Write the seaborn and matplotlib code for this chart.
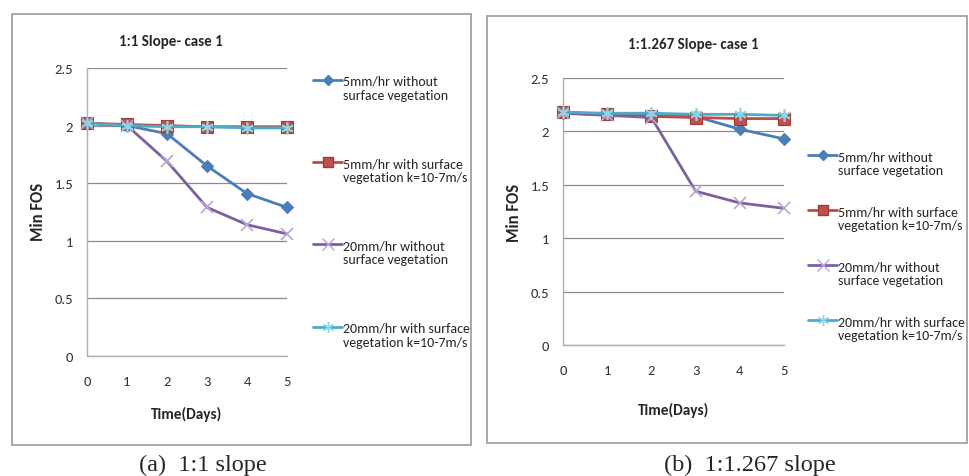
import matplotlib
matplotlib.use("Agg")
import matplotlib.pyplot as plt
import matplotlib.patches as mpatches
from matplotlib.lines import Line2D
import seaborn as sns
import pandas as pd

sns.set_style("white")
plt.rcParams['font.family'] = ['Carlito', 'Lato', 'DejaVu Sans']

days = [0, 1, 2, 3, 4, 5]
labels = ["5mm/hr without\nsurface vegetation",
          "5mm/hr with surface\nvegetation k=10-7m/s",
          "20mm/hr without\nsurface vegetation",
          "20mm/hr with surface\nvegetation k=10-7m/s"]

# 1:1 slope
s1_5_bare = [2.02, 2.00, 1.93, 1.65, 1.41, 1.29]
s1_5_veg = [2.02, 2.01, 2.00, 1.99, 1.99, 1.99]
s1_20_bare = [2.02, 2.00, 1.69, 1.29, 1.14, 1.06]
s1_20_veg = [2.02, 2.00, 1.99, 1.99, 1.98, 1.98]

# 1:1.267 slope
s2_5_bare = [2.17, 2.16, 2.15, 2.14, 2.02, 1.93]
s2_5_veg = [2.18, 2.16, 2.14, 2.13, 2.12, 2.12]
s2_20_bare = [2.17, 2.15, 2.13, 1.44, 1.33, 1.28]
s2_20_veg = [2.18, 2.17, 2.17, 2.16, 2.16, 2.15]

colors = ['#4A7EBB', '#BE4B48', '#7D60A0', '#4BACC6']
marker_face = ['#4A7EBB', '#C0504D', '#B9A6D3', '#8FD3E6']
marker_edge = ['#4A7EBB', '#A03A38', '#B9A6D3', '#8FD3E6']
markers = ['D', 's', 'x', (6, 2, 0)]
msizes = [6, 8, 9, 9]

fig = plt.figure(figsize=(9.7, 4.77), dpi=100)

# panel frames
fig.patches.append(mpatches.Rectangle((12 / 970, 1 - 446 / 477), 459 / 970, 431 / 477,
                                      transform=fig.transFigure, fill=False,
                                      edgecolor='#9a9a9a', lw=1.2))
fig.patches.append(mpatches.Rectangle((487 / 970, 1 - 444 / 477), 480 / 970, 427 / 477,
                                      transform=fig.transFigure, fill=False,
                                      edgecolor='#9a9a9a', lw=1.2))

panels = [
    dict(rect=[87 / 970, 120 / 477, 200 / 970, 288 / 477],
         series=[s1_5_bare, s1_5_veg, s1_20_bare, s1_20_veg],
         title="1:1 Slope- case 1", tpos=(171 / 970, 1 - 42 / 477),
         ylab=(-0.245, 0.503), xlab=(0.5, -0.201),
         leg=(313 / 970, 1 - 76 / 477), spacing=4.05,
         caption="(a)  1:1 slope", capx=203 / 970),
    dict(rect=[563 / 970, 131 / 477, 221 / 970, 267 / 477],
         series=[s2_5_bare, s2_5_veg, s2_20_bare, s2_20_veg],
         title="1:1.267 Slope- case 1", tpos=(693 / 970, 1 - 45 / 477),
         ylab=(-0.222, 0.5), xlab=(0.498, -0.243),
         leg=(808 / 970, 1 - 151 / 477), spacing=2.1,
         caption="(b)  1:1.267 slope", capx=750 / 970),
]

for p in panels:
    ax = fig.add_axes(p['rect'])
    for i, vals in enumerate(p['series']):
        df = pd.DataFrame({'day': days, 'fos': vals})
        sns.lineplot(data=df, x='day', y='fos', ax=ax, color=colors[i], lw=2.0,
                     marker=markers[i], markersize=msizes[i],
                     markerfacecolor=marker_face[i], markeredgecolor=marker_edge[i],
                     markeredgewidth=1.2 if i >= 2 else 0.8, clip_on=False, zorder=3 + i)
    ax.set_xlim(0, 5)
    ax.set_ylim(0, 2.5)
    ax.set_xticks(days)
    ax.set_yticks([0, 0.5, 1, 1.5, 2, 2.5])
    ax.set_yticklabels(['0', '0.5', '1', '1.5', '2', '2.5'])
    ax.yaxis.grid(True, color='#8c8c8c', lw=0.9)
    ax.xaxis.grid(False)
    for s in ['top', 'right']:
        ax.spines[s].set_visible(False)
    for s in ['left', 'bottom']:
        ax.spines[s].set_color('#b0b0b0')
        ax.spines[s].set_linewidth(1.0)
    ax.tick_params(axis='both', direction='out', length=4, width=0.9,
                   color='#b0b0b0', labelsize=10.5, labelcolor='#333333')
    ax.tick_params(axis='x', pad=10)
    ax.tick_params(axis='y', pad=6)
    ax.set_xlabel("Time(Days)", fontsize=11, fontweight='bold')
    ax.set_ylabel("Min FOS", fontsize=12, fontweight='bold')
    ax.xaxis.set_label_coords(*p['xlab'])
    ax.yaxis.set_label_coords(*p['ylab'])
    ax.xaxis.label.set_va('center')
    ax.yaxis.label.set_va('center')
    fig.text(*p['tpos'], p['title'], fontsize=10.8, fontweight='bold',
             ha='center', va='center')

    handles = [Line2D([], [], color=colors[i], lw=2.0, marker=markers[i],
                      markersize=msizes[i] - 1, markerfacecolor=marker_face[i],
                      markeredgecolor=marker_edge[i]) for i in range(4)]
    leg = fig.legend(handles, labels, loc='upper left', bbox_to_anchor=p['leg'],
                     frameon=False, fontsize=10, handlelength=2.1, handletextpad=0.08,
                     labelspacing=p['spacing'], borderaxespad=0, borderpad=0)
    # put the key next to the first line of each two-line label
    for col in leg._legend_handle_box.get_children():
        for row in col.get_children():
            row.align = 'top'

    fig.text(p['capx'], 1 - 465 / 477, p['caption'], family='Liberation Serif',
             fontsize=17.5, ha='center', va='center')

fig.savefig("out.png", dpi=100)
